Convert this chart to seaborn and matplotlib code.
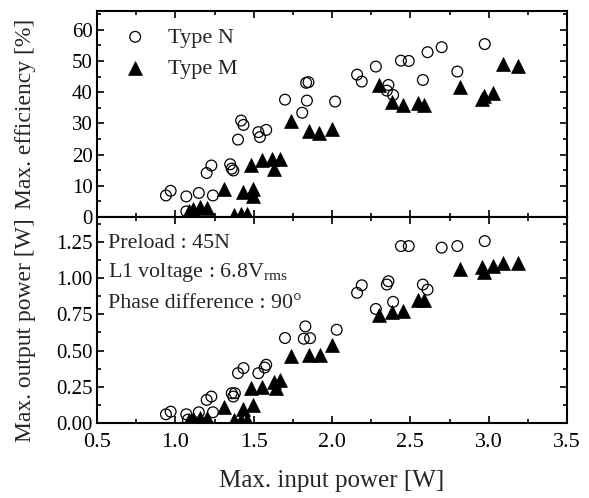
"""Max. efficiency and max. output power against max. input power, Type N vs Type M."""

import matplotlib.pyplot as plt
import seaborn as sns
from matplotlib.ticker import FormatStrFormatter, MultipleLocator


# Upper panel: max. efficiency [%]
EFF_N_X = [0.94, 0.97, 1.07, 1.07, 1.15, 1.24, 1.20, 1.23, 1.35, 1.36, 1.37, 1.40,
           1.42, 1.435, 1.53, 1.54, 1.58, 1.70, 1.81, 1.835, 1.85, 1.84, 2.02,
           2.16, 2.19, 2.28, 2.36, 2.35, 2.39, 2.44, 2.49, 2.61, 2.58, 2.70,
           2.80, 2.975]
EFF_N_Y = [6.9, 8.4, 6.6, 1.8, 7.7, 6.9, 14.1, 16.5, 16.9, 15.5, 14.9, 24.8,
           30.9, 29.5, 27.2, 25.6, 27.9, 37.6, 33.4, 43.0, 43.2, 37.3, 37.0,
           45.6, 43.4, 48.2, 42.3, 40.5, 39.1, 50.1, 50.0, 52.8, 43.9, 54.4,
           46.6, 55.4]
EFF_M_X = [1.09, 1.115, 1.16, 1.20, 1.31, 1.375, 1.42, 1.46, 1.435, 1.495, 1.495,
           1.48, 1.55, 1.62, 1.63, 1.67, 1.74, 1.85, 1.92, 2.00, 2.30, 2.38,
           2.45, 2.55, 2.59, 2.82, 2.96, 2.97, 3.03, 3.09, 3.19]
EFF_M_Y = [1.8, 2.7, 3.2, 3.0, 9.1, 0.8, 1.0, 1.0, 8.0, 9.1, 6.7,
           16.5, 18.4, 18.5, 15.5, 18.5, 30.9, 27.7, 26.9, 28.3, 42.4, 37.0,
           36.0, 36.4, 36.0, 41.8, 37.8, 38.9, 39.8, 49.0, 48.5]

# Lower panel: max. output power [W]
OUT_N_X = [0.94, 0.97, 1.07, 1.08, 1.15, 1.24, 1.20, 1.23, 1.37, 1.36, 1.38, 1.40,
           1.435, 1.53, 1.57, 1.58, 1.70, 1.83, 1.82, 1.86, 2.03,
           2.16, 2.19, 2.28, 2.35, 2.36, 2.39, 2.44, 2.49, 2.58, 2.61, 2.70,
           2.80, 2.975]
OUT_N_Y = [0.062, 0.080, 0.062, 0.025, 0.076, 0.076, 0.161, 0.184, 0.184, 0.207,
           0.207, 0.345, 0.38, 0.345, 0.384, 0.403, 0.587, 0.667, 0.582, 0.586,
           0.644, 0.898, 0.950, 0.787, 0.955, 0.978, 0.836, 1.22, 1.22, 0.955,
           0.92, 1.209, 1.22, 1.254]
OUT_M_X = [1.09, 1.115, 1.16, 1.20, 1.31, 1.375, 1.42, 1.46, 1.435, 1.495,
           1.48, 1.55, 1.63, 1.64, 1.67, 1.74, 1.85, 1.925, 2.00, 2.30, 2.38,
           2.45, 2.55, 2.59, 2.82, 2.96, 2.97, 3.03, 3.09, 3.19]
OUT_M_Y = [0.02, 0.03, 0.035, 0.035, 0.115, 0.02, 0.025, 0.025, 0.10, 0.126,
           0.242, 0.253, 0.287, 0.242, 0.299, 0.46, 0.467, 0.472, 0.536, 0.748,
           0.766, 0.776, 0.852, 0.852, 1.059, 1.075, 1.043, 1.082, 1.105, 1.105]

LABEL_N = "Type N"
LABEL_M = "Type M"


def style_axis(ax) -> None:
    ax.tick_params(which="both", direction="in", top=True, right=True,
                   width=1.2, colors="black")
    ax.tick_params(axis="y", labelsize=15, pad=3)
    ax.tick_params(axis="x", labelsize=16, pad=7)
    ax.tick_params(which="major", length=5)
    ax.tick_params(which="minor", length=3)
    for spine in ax.spines.values():
        spine.set_linewidth(1.5)
        spine.set_color("black")
    ax.xaxis.set_major_locator(MultipleLocator(0.5))
    ax.xaxis.set_minor_locator(MultipleLocator(0.25))


def draw_panel(ax, nx, ny, mx, my) -> None:
    sns.scatterplot(x=nx, y=ny, ax=ax, marker="o", s=60, facecolor="none",
                    edgecolor="black", linewidth=0.9, label=LABEL_N)
    sns.scatterplot(x=mx, y=my, ax=ax, marker="^", s=100, color="black",
                    edgecolor="black", linewidth=0.5, label=LABEL_M)


def main() -> None:
    sns.set_style("ticks")
    plt.rcParams["font.family"] = ["Liberation Serif", "DejaVu Serif"]
    plt.rcParams["mathtext.fontset"] = "custom"
    plt.rcParams["mathtext.rm"] = "Liberation Serif"

    fig = plt.figure(figsize=(5.89, 4.98), dpi=100)
    left, width = 97 / 589, 470 / 589
    ax_top = fig.add_axes([left, 1 - 217 / 498, width, 206 / 498])
    ax_bot = fig.add_axes([left, 1 - 423.3 / 498, width, 206.3 / 498], sharex=ax_top)

    draw_panel(ax_top, EFF_N_X, EFF_N_Y, EFF_M_X, EFF_M_Y)
    draw_panel(ax_bot, OUT_N_X, OUT_N_Y, OUT_M_X, OUT_M_Y)

    for ax in (ax_top, ax_bot):
        style_axis(ax)
    ax_top.set_xlim(0.5, 3.5)

    ax_top.set_ylim(0, 66)
    ax_top.yaxis.set_major_locator(MultipleLocator(10))
    ax_top.yaxis.set_minor_locator(MultipleLocator(5))
    ax_top.tick_params(labelbottom=False)
    ax_top.set_ylabel("Max. efficiency [%]", fontsize=17)
    ax_top.yaxis.set_label_coords(-0.13, 0.5)
    ax_top.legend(loc="upper left", frameon=False, fontsize=16,
                  handletextpad=0.5, borderaxespad=0, labelspacing=0.5,
                  bbox_to_anchor=(0.015, 0.965))

    ax_bot.set_ylim(0, 1.42)
    ax_bot.yaxis.set_major_locator(MultipleLocator(0.25))
    ax_bot.yaxis.set_minor_locator(MultipleLocator(0.125))
    ax_bot.yaxis.set_major_formatter(FormatStrFormatter("%.2f"))
    ax_bot.set_ylabel("Max. output power [W]", fontsize=17)
    ax_bot.yaxis.set_label_coords(-0.13, 0.45)
    ax_bot.set_xlabel("Max. input power [W]", fontsize=18, labelpad=13)
    ax_bot.get_legend().remove()

    notes = ["Preload : 45N",
             "L1 voltage : 6.8V$_{\\mathrm{rms}}$",
             "Phase difference : 90\u00b0"]
    baselines = [0.848, 0.711, 0.557]
    for note, y in zip(notes, baselines):
        ax_bot.text(0.023, y, note, transform=ax_bot.transAxes,
                    fontsize=15.8, va="baseline", ha="left")

    fig.savefig("out.png", dpi=100)
    plt.close(fig)


if __name__ == "__main__":
    main()
